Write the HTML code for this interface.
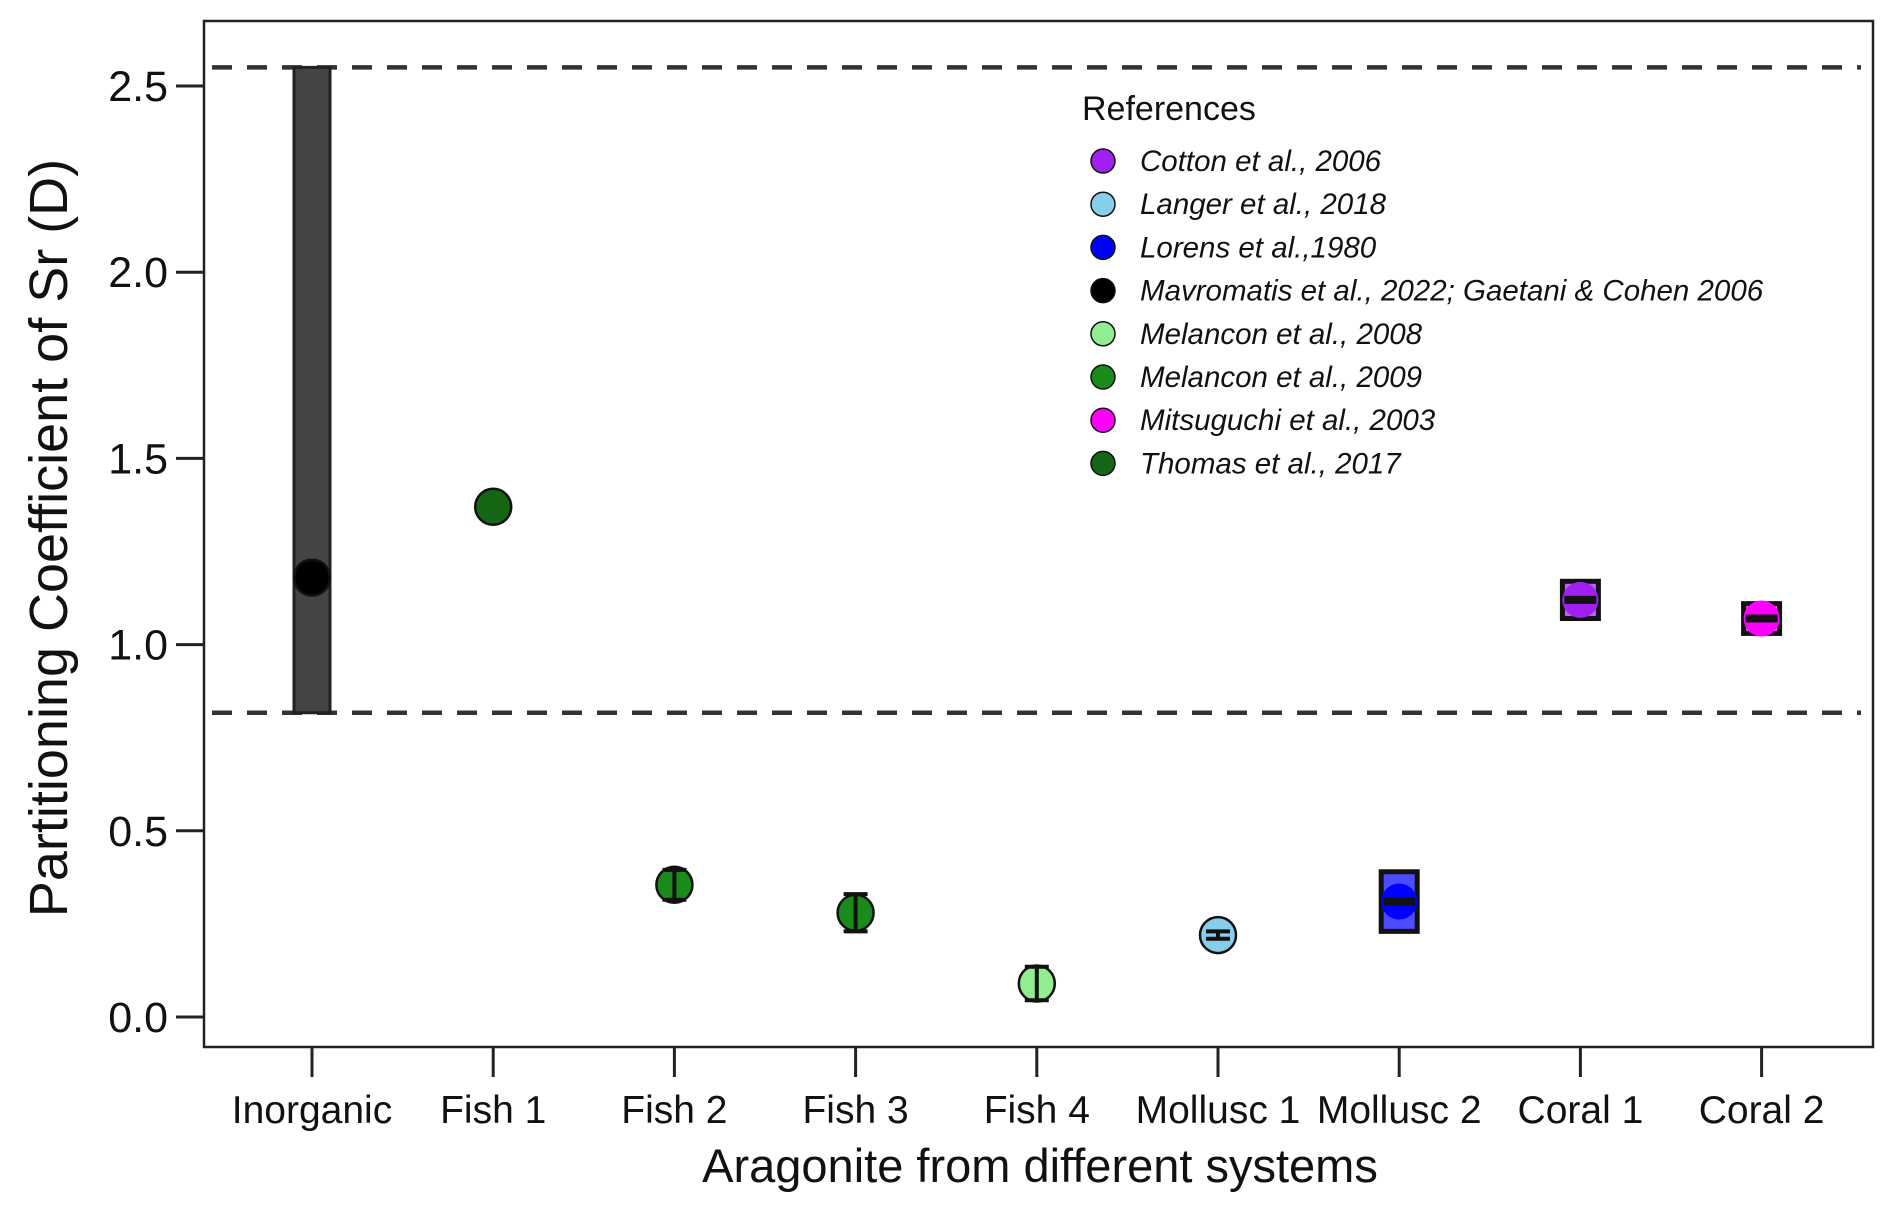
<!DOCTYPE html>
<html><head><meta charset="utf-8"><style>
html,body{margin:0;padding:0;background:#fff;}
svg{display:block;font-family:"Liberation Sans",Arial,sans-serif;}
</style></head><body>
<svg id="chart" width="1892" height="1210" viewBox="0 0 1892 1210" xmlns="http://www.w3.org/2000/svg"></svg>
<script>
const categories = ["Inorganic","Fish 1","Fish 2","Fish 3","Fish 4","Mollusc 1","Mollusc 2","Coral 1","Coral 2"];
const meanValues = [1.18,1.37,0.355,0.28,0.09,0.22,0.31,1.12,1.07];
const errLow = [0.817,1.37,0.315,0.23,0.045,0.21,0.23,1.07,1.03];
const errHigh = [2.55,1.37,0.395,0.33,0.135,0.23,0.39,1.17,1.11];
const markerColors = ["#000000","#156615","#1a8a1a","#1a8a1a","#90ee90","#87ceeb","#0000ff","#a020f0","#ff00ff"];
const rangeType = ["bar","none","err","err","err","err","box","box","box"];
const yTicks = [0.0,0.5,1.0,1.5,2.0,2.5];
const dashedRefs = [2.55,0.817];
const legendLabels = ["Cotton et al., 2006","Langer et al., 2018","Lorens et al.,1980","Mavromatis et al., 2022; Gaetani & Cohen 2006","Melancon et al., 2008","Melancon et al., 2009","Mitsuguchi et al., 2003","Thomas et al., 2017"];
const legendColors = ["#a020f0","#87ceeb","#0000ff","#000000","#90ee90","#1a8a1a","#ff00ff","#156615"];

const NS="http://www.w3.org/2000/svg";
const svg=document.getElementById('chart');
const L=204,T=21,R=1873,B=1047;
function y(v){return 1017-v*372.4;}
function x(i){return 312+i*181.2;}
function mk(tag,attrs,parent){const e=document.createElementNS(NS,tag);for(const k in attrs)e.setAttribute(k,attrs[k]);(parent||svg).appendChild(e);return e;}

let e;
e=mk('rect',{x:L,y:T,width:R-L,height:B-T,fill:'none',stroke:'#222','stroke-width':2.5});



yTicks.forEach(v=>{
  e=mk('line',{x1:L-28,x2:L,y1:y(v),y2:y(v),stroke:'#222','stroke-width':3});
  
  
  e=mk('text',{x:L-36,y:y(v)+15,'text-anchor':'end','font-size':43,fill:'#111'});
  e.textContent=v.toFixed(1);
  
  
});

dashedRefs.forEach(v=>{
  e=mk('line',{x1:L+8,x2:R-12,y1:y(v),y2:y(v),stroke:'#333','stroke-width':4.5,'stroke-dasharray':'20 15'});
  
  
});

categories.forEach((c,i)=>{
  const cx=x(i);
  e=mk('line',{x1:cx,x2:cx,y1:B,y2:B+30,stroke:'#222','stroke-width':3});
  
  
  e=mk('text',{x:cx,y:1123,'text-anchor':'middle','font-size':39,fill:'#111'});
  e.textContent=c;
  
  

  const g=mk('g',{});
  
  
  const t=rangeType[i];
  if(t==='bar'){
    mk('rect',{x:cx-18,y:y(errHigh[i]),width:36,height:y(errLow[i])-y(errHigh[i]),fill:'#444',stroke:'#222','stroke-width':3},g);
  }
  if(t==='box'){
    mk('rect',{x:cx-18,y:y(errHigh[i]),width:36,height:y(errLow[i])-y(errHigh[i]),fill:markerColors[i],'fill-opacity':0.7,stroke:'#111','stroke-width':5},g);
  }
  mk('circle',{cx:cx,cy:y(meanValues[i]),r:18,fill:markerColors[i],stroke:'#111','stroke-width':t==='box'?0:2.5},g);
  if(t==='err'){
    const y1=y(errHigh[i]),y2=y(errLow[i]);
    mk('line',{x1:cx,x2:cx,y1:y1,y2:y2,stroke:'#111','stroke-width':4},g);
    mk('line',{x1:cx-12,x2:cx+12,y1:y1,y2:y1,stroke:'#111','stroke-width':4},g);
    mk('line',{x1:cx-12,x2:cx+12,y1:y2,y2:y2,stroke:'#111','stroke-width':4},g);
  }
  if(t==='box'){
    mk('line',{x1:cx-16,x2:cx+16,y1:y(meanValues[i]),y2:y(meanValues[i]),stroke:'#111','stroke-width':8},g);
  }
});

e=mk('text',{x:1040,y:1182,'text-anchor':'middle','font-size':47,fill:'#111'});
e.textContent='Aragonite from different systems';


e=mk('text',{x:0,y:0,'text-anchor':'middle','font-size':54,fill:'#111',transform:'translate(67,538) rotate(-90)'});
e.textContent='Partitioning Coefficient of Sr (D)';



const lg=mk('g',{});


e=mk('text',{x:1082,y:120,'font-size':34,fill:'#111'},lg);
e.textContent='References';


legendLabels.forEach((lab,i)=>{
  const ly=161+i*43.2;
  const eg=mk('g',{},lg);
  
  
  mk('circle',{cx:1103,cy:ly,r:12,fill:legendColors[i],stroke:'#111','stroke-width':1.5},eg);
  const tx=mk('text',{x:1140,y:ly+10,'font-size':29.5,'font-style':'italic',fill:'#111'},eg);
  tx.textContent=lab;
});
</script>
</body></html>
